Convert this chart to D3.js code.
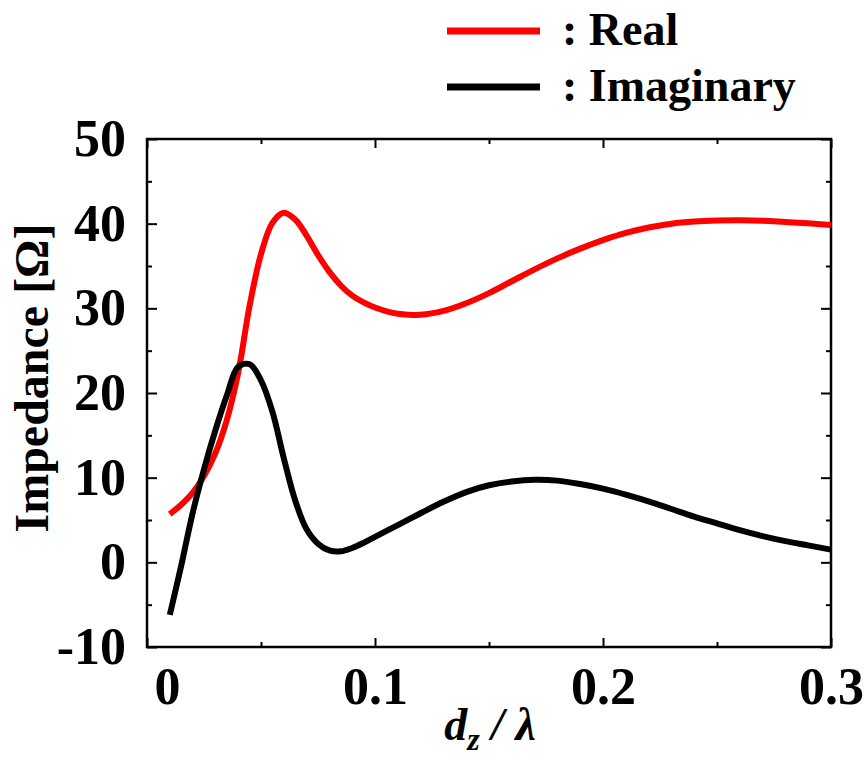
<!DOCTYPE html>
<html>
  <head>
    <meta charset="utf-8" />
    <title>impedance</title>
    <script src="https://cdn.jsdelivr.net/npm/d3@7"></script>
    <style type="text/css">
      body { margin: 0; background: #fff; }
      text { font-family: "Liberation Serif", "Times New Roman", serif; font-weight: bold; }
    </style>
  </head>
  <body>
    <svg id="chart" width="868" height="763"></svg>
    <script type="text/javascript">
      // d_z / lambda samples
      var dRatio = [0.010, 0.015, 0.020, 0.025, 0.030, 0.035, 0.040, 0.045, 0.050, 0.055,
        0.060, 0.065, 0.070, 0.075, 0.080, 0.085, 0.090, 0.095, 0.100, 0.110,
        0.120, 0.130, 0.140, 0.150, 0.160, 0.170, 0.180, 0.190, 0.200, 0.210,
        0.220, 0.230, 0.240, 0.250, 0.260, 0.270, 0.280, 0.290, 0.300];
      var realZ = [5.7, 6.8, 8.2, 10.2, 12.9, 16.8, 22.4, 30.3, 36.4, 40.1,
        41.3, 40.5, 38.6, 36.3, 34.3, 32.7, 31.5, 30.7, 30.1, 29.35,
        29.25, 29.7, 30.6, 31.8, 33.2, 34.6, 35.9, 37.05, 38.05, 38.9,
        39.55, 40.0, 40.25, 40.37, 40.4, 40.35, 40.2, 40.05, 39.85];
      var imagZ = [-6.2, -0.4, 5.8, 11.0, 15.6, 19.7, 23.1, 23.4, 21.5, 17.8,
        12.3, 7.3, 3.9, 2.2, 1.4, 1.3, 1.7, 2.3, 3.0, 4.4,
        5.8, 7.15, 8.3, 9.1, 9.55, 9.75, 9.65, 9.25, 8.7, 8.0,
        7.2, 6.3, 5.4, 4.6, 3.8, 3.1, 2.5, 2.0, 1.5];

      var xMajor = [0, 0.1, 0.2, 0.3], xMinor = [0.05, 0.15, 0.25];
      var yMajor = [-10, 0, 10, 20, 30, 40, 50], yMinor = [-5, 5, 15, 25, 35, 45];
      var seriesNames = [': Real', ': Imaginary'];
      var seriesColors = ['#ff0000', '#000000'];

      var L = 147, R = 831, T = 139, B = 647;
      var x = d3.scaleLinear().domain([0, 0.3]).range([L, R]);
      var y = d3.scaleLinear().domain([-10, 50]).range([B, T]);

      var svg = d3.select('#chart');

      function fmtX(d) { return d === 0 ? '0' : d3.format('.1f')(d); }
      function fmtY(d) { return String(d); } // plain hyphen for -10

      // bottom axis with labels
      var gB = svg.append('g').attr('transform', 'translate(0,' + B + ')')
        .call(d3.axisBottom(x).tickValues(xMajor).tickSize(-9).tickPadding(20).tickFormat(fmtX));
      gB.selectAll('.tick').filter(function (d) { return d === 0; }).select('text').attr('dx', 20);
      svg.append('g').attr('transform', 'translate(0,' + B + ')')
        .call(d3.axisBottom(x).tickValues(xMinor).tickSize(-5).tickFormat(''));
      // top mirror
      svg.append('g').attr('transform', 'translate(0,' + T + ')')
        .call(d3.axisTop(x).tickValues(xMajor).tickSize(-9).tickFormat(''));
      svg.append('g').attr('transform', 'translate(0,' + T + ')')
        .call(d3.axisTop(x).tickValues(xMinor).tickSize(-5).tickFormat(''));
      // left axis with labels
      svg.append('g').attr('transform', 'translate(' + L + ',0)')
        .call(d3.axisLeft(y).tickValues(yMajor).tickSize(-10).tickPadding(21).tickFormat(fmtY));
      svg.append('g').attr('transform', 'translate(' + L + ',0)')
        .call(d3.axisLeft(y).tickValues(yMinor).tickSize(-5).tickFormat(''));
      // right mirror
      svg.append('g').attr('transform', 'translate(' + R + ',0)')
        .call(d3.axisRight(y).tickValues(yMajor).tickSize(-10).tickFormat(''));
      svg.append('g').attr('transform', 'translate(' + R + ',0)')
        .call(d3.axisRight(y).tickValues(yMinor).tickSize(-5).tickFormat(''));

      svg.selectAll('.domain').remove();
      svg.selectAll('.tick line').attr('stroke', '#000').attr('stroke-width', 2);
      svg.selectAll('.tick text').attr('fill', '#000').style('font-size', '52px')
        .style('font-family', '"Liberation Serif", serif').style('font-weight', 'bold');

      svg.append('rect').attr('x', L).attr('y', T).attr('width', R - L).attr('height', B - T)
        .attr('fill', 'none').attr('stroke', '#000').attr('stroke-width', 2.5);

      var line = function (vals) {
        return d3.line().curve(d3.curveCatmullRom.alpha(0.5))
          .x(function (d, i) { return x(dRatio[i]); })
          .y(function (d) { return y(d); })(vals);
      };
      svg.append('path').attr('d', line(realZ)).attr('fill', 'none')
        .attr('stroke', seriesColors[0]).attr('stroke-width', 6);
      svg.append('path').attr('d', line(imagZ)).attr('fill', 'none')
        .attr('stroke', seriesColors[1]).attr('stroke-width', 6);

      // legend
      var lg = svg.append('g');
      seriesNames.forEach(function (n, i) {
        var ly = 31 + i * 56;
        lg.append('line').attr('x1', 447).attr('x2', 540).attr('y1', ly).attr('y2', ly)
          .attr('stroke', seriesColors[i]).attr('stroke-width', 7);
        lg.append('text').attr('x', 562).attr('y', ly + 14).style('font-size', '46px').text(n);
      });

      // axis titles
      svg.append('text').attr('transform', 'translate(48,378) rotate(-90)')
        .attr('text-anchor', 'middle').style('font-size', '48px').text('Impedance [\u03A9]');
      var xt = svg.append('text').attr('x', 490).attr('y', 740).attr('text-anchor', 'middle')
        .style('font-size', '46px').style('font-style', 'italic');
      xt.append('tspan').text('d');
      xt.append('tspan').attr('dy', 10).style('font-size', '32px').text('z');
      xt.append('tspan').attr('dy', -10).text(' / \u03BB');
    </script>
  </body>
</html>
